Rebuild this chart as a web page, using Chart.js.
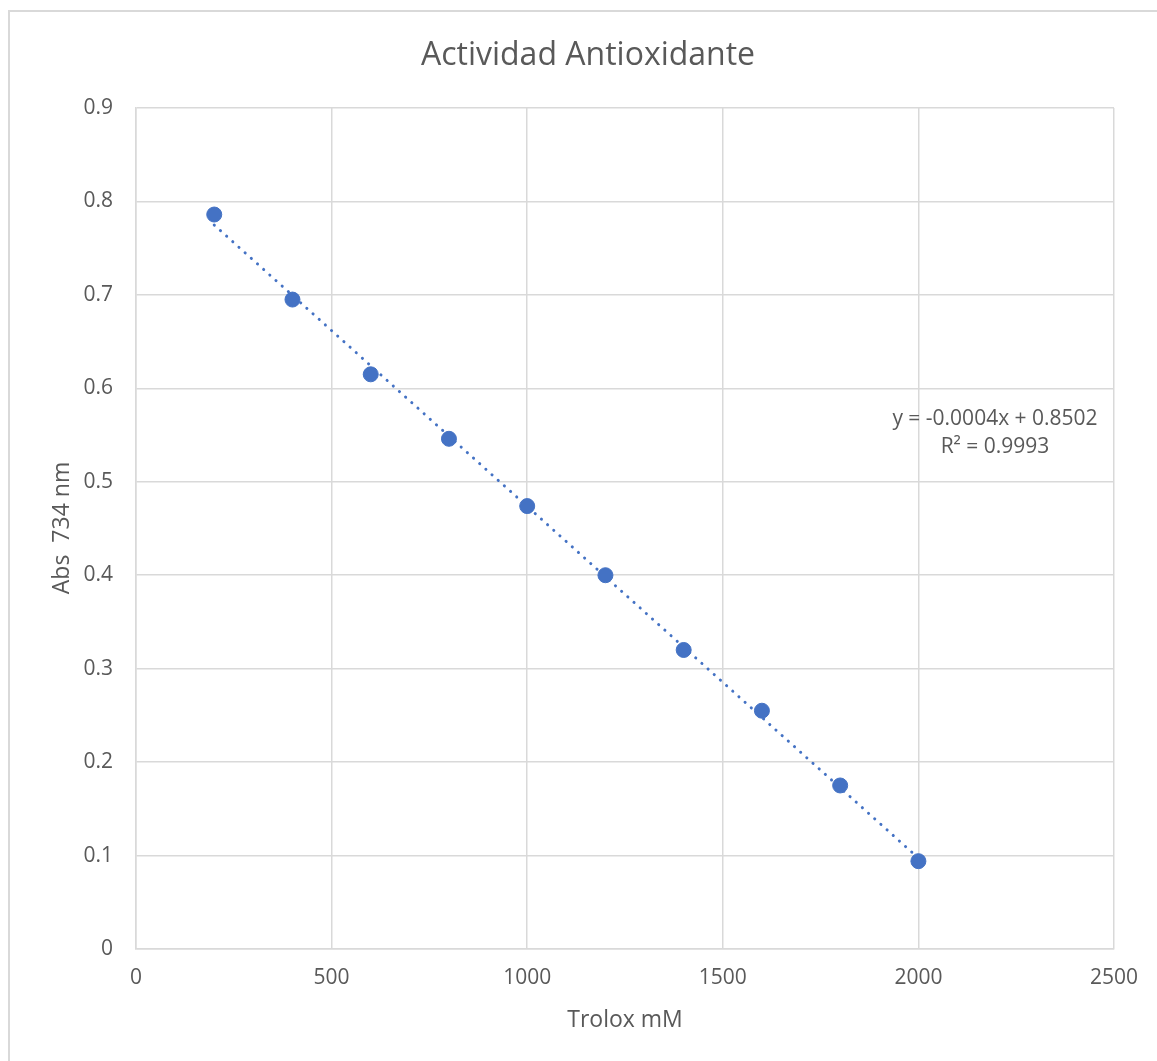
<!DOCTYPE html>
<html>
<head>
<meta charset="utf-8">
<title>Actividad Antioxidante</title>
<script src="https://cdn.jsdelivr.net/npm/chart.js@4.4.1/dist/chart.umd.min.js"></script>
<style>
  html, body { margin: 0; padding: 0; background: #ffffff; }
  #wrap { position: relative; width: 1157px; height: 1061px; overflow: hidden; }
  #frame { position: absolute; left: 8px; top: 10px; width: 1200px; height: 1100px;
           border: 2px solid #d9d9d9; box-sizing: border-box; }
  canvas { position: absolute; left: 0; top: 0; }
</style>
</head>
<body>
<div id="wrap">
  <div id="frame"></div>
  <canvas id="c" width="1157" height="1061"></canvas>
</div>
<script>
// Trolox concentration (mM) and absorbance at 734 nm
const troloxMM = [200, 400, 600, 800, 1000, 1200, 1400, 1600, 1800, 2000];
const abs734 = [0.786, 0.695, 0.615, 0.546, 0.474, 0.400, 0.320, 0.255, 0.175, 0.094];

// Axis tick values
const xTickValues = [0, 500, 1000, 1500, 2000, 2500];
const yTickValues = [0, 0.1, 0.2, 0.3, 0.4, 0.5, 0.6, 0.7, 0.8, 0.9];

// Text
const chartTitle = 'Actividad Antioxidante';
const xAxisTitle = 'Trolox mM';
const yAxisTitle = 'Abs  734 nm';
const equationLines = ['y = -0.0004x + 0.8502', 'R\u00B2 = 0.9993'];

// Least-squares linear fit of the measured points
function linearFit(xs, ys) {
  const n = xs.length;
  const mx = xs.reduce((a, b) => a + b, 0) / n;
  const my = ys.reduce((a, b) => a + b, 0) / n;
  let sxy = 0, sxx = 0;
  for (let i = 0; i < n; i++) {
    sxy += (xs[i] - mx) * (ys[i] - my);
    sxx += (xs[i] - mx) * (xs[i] - mx);
  }
  const slope = sxy / sxx;
  return { slope, intercept: my - slope * mx };
}
const fit = linearFit(troloxMM, abs734);
const xMin = Math.min(...troloxMM), xMax = Math.max(...troloxMM);
const trendPoints = [xMin, xMax].map(x => ({ x, y: fit.slope * x + fit.intercept }));

const FONT = '"Open Sans", "Liberation Sans", sans-serif';
const TEXT = '#595959';
const BLUE = '#4472C4';
const GRID = '#d9d9d9';

// Title, axis titles and trendline equation
const textPlugin = {
  id: 'texts',
  afterDraw(chart) {
    const ctx = chart.ctx;
    const a = chart.chartArea;
    ctx.save();
    ctx.fillStyle = TEXT;
    ctx.textAlign = 'center';
    ctx.textBaseline = 'middle';
    ctx.font = '32px ' + FONT;
    ctx.fillText(chartTitle, 588, 56);
    ctx.font = '23px ' + FONT;
    ctx.fillText(xAxisTitle, (a.left + a.right) / 2, 1020);
    ctx.save();
    ctx.translate(62, 528);
    ctx.rotate(-Math.PI / 2);
    ctx.fillText(yAxisTitle, 0, 0);
    ctx.restore();
    ctx.font = '21px ' + FONT;
    ctx.fillText(equationLines[0], 995, 419);
    ctx.fillText(equationLines[1], 995, 447);
    ctx.restore();
  }
};

new Chart(document.getElementById('c'), {
  type: 'scatter',
  data: {
    datasets: [
      {
        label: 'Lineal',
        data: trendPoints,
        showLine: true,
        borderColor: BLUE,
        borderWidth: 3,
        borderDash: [0.1, 8.2],
        borderCapStyle: 'round',
        pointRadius: 0,
        fill: false,
        order: 2
      },
      {
        label: 'Abs 734 nm',
        data: troloxMM.map((x, i) => ({ x, y: abs734[i] })),
        backgroundColor: BLUE,
        borderColor: BLUE,
        pointRadius: 7.5,
        pointHoverRadius: 7.5,
        order: 1
      }
    ]
  },
  options: {
    responsive: false,
    animation: false,
    events: [],
    layout: { padding: { left: 0, right: 43, top: 108, bottom: 0 } },
    plugins: {
      legend: { display: false },
      title: { display: false },
      tooltip: { enabled: false }
    },
    scales: {
      x: {
        type: 'linear',
        min: 0,
        max: 2500,
        afterBuildTicks: s => { s.ticks = xTickValues.map(v => ({ value: v })); },
        afterFit: s => { s.height = 112; },
        grid: { color: GRID, lineWidth: 1.5, drawTicks: false },
        border: { color: GRID, width: 1.5 },
        ticks: {
          color: TEXT,
          font: { family: FONT, size: 21 },
          padding: 16,
          maxRotation: 0,
          callback: v => String(v)
        }
      },
      y: {
        type: 'linear',
        min: 0,
        max: 0.9,
        afterBuildTicks: s => { s.ticks = yTickValues.map(v => ({ value: v })); },
        afterFit: s => { s.width = 136; },
        grid: { color: GRID, lineWidth: 1.5, drawTicks: false },
        border: { color: GRID, width: 1.5 },
        ticks: {
          color: TEXT,
          font: { family: FONT, size: 21 },
          padding: 23,
          callback: v => String(Math.round(v * 10) / 10)
        }
      }
    }
  },
  plugins: [textPlugin]
});
</script>
</body>
</html>
